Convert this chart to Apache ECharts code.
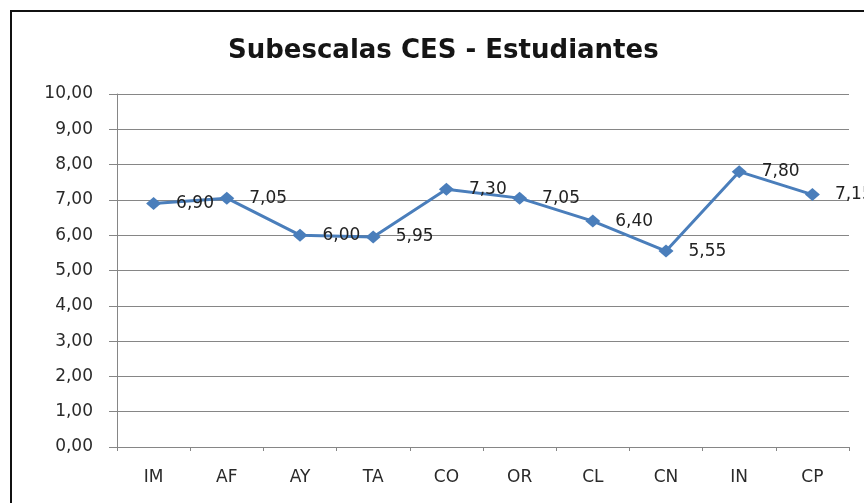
<!DOCTYPE html>
<html>
<head>
<meta charset="utf-8">
<script src="https://cdn.jsdelivr.net/npm/echarts@6/dist/echarts.min.js"></script>
<style>
html,body{margin:0;padding:0;background:#fff;}
#chart{width:864px;height:503px;}
</style>
</head>
<body>
<div id="chart"></div>
<script>
const categories = ['IM','AF','AY','TA','CO','OR','CL','CN','IN','CP'];
const values = [6.90, 7.05, 6.00, 5.95, 7.30, 7.05, 6.40, 5.55, 7.80, 7.15];
const yMin = 0, yMax = 10, yStep = 1;
const titleText = 'Subescalas CES - Estudiantes';

const fmt = v => Number(v).toFixed(2).replace('.', ',');
const font = '"DejaVu Sans", Verdana, sans-serif';

const chart = echarts.init(document.getElementById('chart'));
chart.setOption({
  animation: false,
  backgroundColor: '#fff',
  title: {
    text: titleText,
    left: 223,
    top: 33,
    textStyle: { fontFamily: font, fontWeight: 'bold', fontSize: 26, color: '#151515' }
  },
  graphic: [{
    type: 'rect',
    shape: { x: 11, y: 11, width: 870, height: 510 },
    style: { fill: 'none', stroke: '#111', lineWidth: 2 },
    silent: true
  }],
  grid: { left: 117, top: 94, right: 15, bottom: 56 },
  xAxis: {
    type: 'category',
    data: categories,
    boundaryGap: true,
    axisLine: { lineStyle: { color: '#868686', width: 1 } },
    axisTick: { show: true, length: 4, lineStyle: { color: '#868686' } },
    axisLabel: { color: '#2a2a2a', fontFamily: font, fontSize: 17, margin: 22 }
  },
  yAxis: {
    type: 'value',
    min: yMin, max: yMax, interval: yStep,
    axisLine: { show: true, lineStyle: { color: '#868686', width: 1 } },
    axisTick: { show: true, length: 8, lineStyle: { color: '#868686' } },
    splitLine: { lineStyle: { color: '#868686', width: 1 } },
    axisLabel: { color: '#2a2a2a', fontFamily: font, fontSize: 17, margin: 24, formatter: fmt }
  },
  series: [{
    type: 'line',
    data: values,
    symbol: 'diamond',
    symbolSize: [15, 13],
    lineStyle: { color: '#4A7EBB', width: 3 },
    itemStyle: { color: '#4A7EBB' },
    label: {
      show: true,
      position: 'right',
      distance: 15,
      color: '#222',
      fontFamily: font,
      fontSize: 17,
      formatter: p => fmt(p.value)
    }
  }]
});
</script>
</body>
</html>
